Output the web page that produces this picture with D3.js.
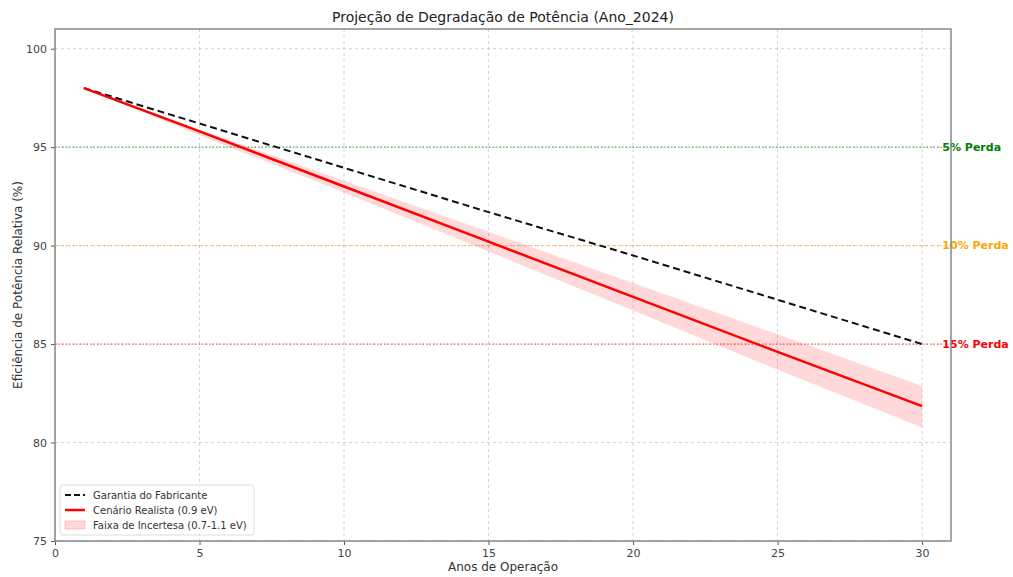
<!DOCTYPE html>
<html>
<head>
<meta charset="utf-8">
<script src="https://cdn.jsdelivr.net/npm/d3@7"></script>
<style>
  body { margin: 0; background: #fff; }
  svg { font-family: "DejaVu Sans", sans-serif; }
</style>
</head>
<body>
<svg id="chart" width="1013" height="577"></svg>
<script>
// Values
const years = [1, 5, 10, 15, 20, 25, 30];
const garantia = [98, 96.2, 93.95, 91.7, 89.5, 87.25, 85];
const realista = [98, 95.8, 93.0, 90.2, 87.4, 84.6, 81.85];
const faixaSup = [98, 95.9, 93.3, 90.7, 88.1, 85.5, 82.87];
const faixaInf = [98, 95.6, 92.7, 89.7, 86.7, 83.7, 80.77];

const xTicks = [0, 5, 10, 15, 20, 25, 30];
const yTicks = [75, 80, 85, 90, 95, 100];

const limites = [
  { valor: 95, rotulo: '5% Perda', cor: 'green' },
  { valor: 90, rotulo: '10% Perda', cor: 'orange' },
  { valor: 85, rotulo: '15% Perda', cor: 'red' },
];

const margin = { top: 29, right: 62, bottom: 36, left: 55 };
const width = 1013 - margin.left - margin.right;
const height = 577 - margin.top - margin.bottom;

const svg = d3.select('#chart');
const g = svg.append('g')
  .attr('transform', `translate(${margin.left},${margin.top})`);

const x = d3.scaleLinear().domain([0, 31]).range([0, width]);
const y = d3.scaleLinear().domain([75, 101]).range([height, 0]);

// Grid
g.append('g')
  .selectAll('line.vg')
  .data(xTicks)
  .join('line')
  .attr('x1', d => x(d)).attr('x2', d => x(d))
  .attr('y1', 0).attr('y2', height)
  .attr('stroke', '#b0b0b0').attr('stroke-width', 0.8)
  .attr('stroke-dasharray', '3,3').attr('opacity', 0.7);

g.append('g')
  .selectAll('line.hg')
  .data(yTicks)
  .join('line')
  .attr('x1', 0).attr('x2', width)
  .attr('y1', d => y(d)).attr('y2', d => y(d))
  .attr('stroke', '#b0b0b0').attr('stroke-width', 0.8)
  .attr('stroke-dasharray', '3,3').attr('opacity', 0.7);

// Loss threshold lines
limites.forEach(l => {
  g.append('line')
    .attr('x1', 0).attr('x2', x(30.7))
    .attr('y1', y(l.valor)).attr('y2', y(l.valor))
    .attr('stroke', l.cor).attr('stroke-width', 1.2)
    .attr('stroke-dasharray', '1.5,2').attr('opacity', 0.6);
  g.append('text')
    .attr('x', x(30.7)).attr('y', y(l.valor))
    .attr('dy', '0.35em')
    .attr('font-size', 11).attr('font-weight', 'bold')
    .attr('fill', l.cor)
    .text(l.rotulo);
});

// Uncertainty band
const area = d3.area()
  .x((d, i) => x(years[i]))
  .y0((d, i) => y(faixaInf[i]))
  .y1((d, i) => y(faixaSup[i]));

g.append('path')
  .datum(years)
  .attr('d', area)
  .attr('fill', 'red').attr('fill-opacity', 0.15);

const line = d3.line()
  .x((d, i) => x(years[i]))
  .y(d => y(d));

g.append('path')
  .datum(garantia)
  .attr('d', line)
  .attr('fill', 'none').attr('stroke', '#111')
  .attr('stroke-width', 2).attr('stroke-dasharray', '7,4');

g.append('path')
  .datum(realista)
  .attr('d', line)
  .attr('fill', 'none').attr('stroke', 'red')
  .attr('stroke-width', 2.5);

// Axes
const xAxis = g.append('g')
  .attr('transform', `translate(0,${height})`)
  .call(d3.axisBottom(x).tickValues(xTicks).tickSize(4).tickPadding(4));
const yAxis = g.append('g')
  .call(d3.axisLeft(y).tickValues(yTicks).tickSize(4).tickPadding(4));

[xAxis, yAxis].forEach(a => {
  a.select('.domain').remove();
  a.selectAll('line').attr('stroke', '#555');
  a.selectAll('text').attr('font-size', 11).attr('fill', '#444')
    .attr('font-family', '"DejaVu Sans", sans-serif');
});

// Frame
g.append('rect')
  .attr('width', width).attr('height', height)
  .attr('fill', 'none').attr('stroke', '#888').attr('stroke-width', 1.5);

// Titles
svg.append('text')
  .attr('x', margin.left + width / 2).attr('y', 22)
  .attr('text-anchor', 'middle').attr('font-size', 14).attr('fill', '#222')
  .text('Projeção de Degradação de Potência (Ano_2024)');

svg.append('text')
  .attr('x', margin.left + width / 2).attr('y', 571)
  .attr('text-anchor', 'middle').attr('font-size', 12).attr('fill', '#333')
  .text('Anos de Operação');

svg.append('text')
  .attr('transform', `translate(22,${margin.top + height / 2}) rotate(-90)`)
  .attr('text-anchor', 'middle').attr('font-size', 12).attr('fill', '#333')
  .text('Eficiência de Potência Relativa (%)');

// Legend
const legend = g.append('g').attr('transform', `translate(5,${height - 56})`);
legend.append('rect')
  .attr('width', 194).attr('height', 50).attr('rx', 3)
  .attr('fill', '#fff').attr('fill-opacity', 0.8)
  .attr('stroke', '#ddd');

const itens = [
  { nome: 'Garantia do Fabricante', tipo: 'dash' },
  { nome: 'Cenário Realista (0.9 eV)', tipo: 'line' },
  { nome: 'Faixa de Incertesa (0.7-1.1 eV)', tipo: 'area' },
];

itens.forEach((it, i) => {
  const cy = 10 + i * 15;
  if (it.tipo === 'dash') {
    legend.append('line').attr('x1', 5).attr('x2', 25).attr('y1', cy).attr('y2', cy)
      .attr('stroke', '#111').attr('stroke-width', 2).attr('stroke-dasharray', '6,3');
  } else if (it.tipo === 'line') {
    legend.append('line').attr('x1', 5).attr('x2', 25).attr('y1', cy).attr('y2', cy)
      .attr('stroke', 'red').attr('stroke-width', 2.5);
  } else {
    legend.append('rect').attr('x', 5).attr('y', cy - 4).attr('width', 20).attr('height', 8)
      .attr('fill', 'red').attr('fill-opacity', 0.15).attr('stroke', 'red').attr('stroke-opacity', 0.2);
  }
  legend.append('text')
    .attr('x', 33).attr('y', cy).attr('dy', '0.35em')
    .attr('font-size', 10).attr('fill', '#333')
    .text(it.nome);
});
</script>
</body>
</html>
